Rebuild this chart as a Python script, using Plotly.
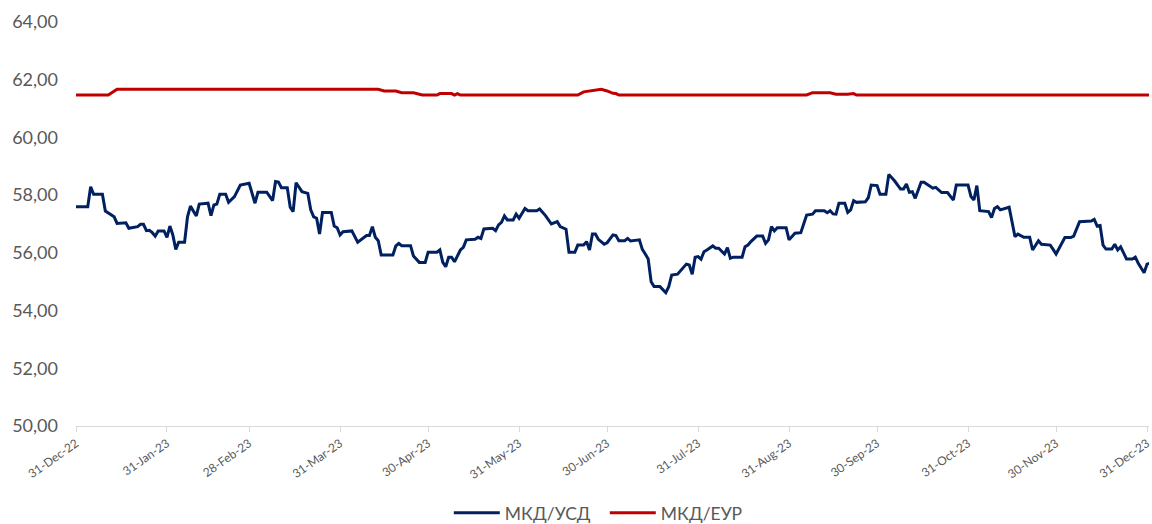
import pandas as pd
import plotly.graph_objects as go

BASE_DATE = "2022-12-31"

# MKD/USD: day offset from 31-Dec-22, value
usd_day = [
    0, 4, 5, 6, 9, 10, 13, 14, 17, 18,
    21, 22, 23, 24, 25, 26, 27, 28, 30, 31,
    32, 33, 34, 35, 37, 38, 39, 41, 42, 45,
    46, 47, 48, 49, 51, 52, 54, 56, 59, 61,
    62, 65, 67, 68, 69, 70, 72, 73, 74, 75,
    77, 79, 80, 81, 82, 83, 84, 87, 88, 89,
    90, 91, 94, 96, 99, 100, 101, 102, 103, 104,
    108, 109, 110, 111, 114, 115, 117, 119, 120, 123,
    124, 125, 126, 127, 128, 129, 131, 132, 133, 136,
    137, 138, 139, 142, 143, 144, 145, 146, 147, 149,
    150, 151, 153, 154, 157, 158, 160, 162, 164, 165,
    167, 168, 170, 171, 173, 174, 175, 176, 177, 178,
    180, 181, 183, 184, 185, 187, 188, 189, 192, 193,
    194, 195, 196, 197, 199, 201, 202, 203, 205, 208,
    209, 210, 211, 212, 213, 214, 215, 217, 218, 219,
    221, 222, 223, 224, 227, 228, 229, 230, 232, 234,
    235, 236, 237, 238, 239, 242, 243, 245, 247, 249,
    251, 252, 255, 256, 257, 258, 259, 260, 262, 263,
    264, 265, 266, 269, 270, 271, 273, 274, 276, 277,
    279, 281, 282, 283, 284, 285, 286, 288, 289, 292,
    293, 295, 297, 299, 300, 304, 305, 306, 307, 308,
    311, 312, 313, 314, 315, 318, 320, 321, 323, 325,
    326, 328, 329, 332, 333, 334, 337, 339, 340, 342,
    346, 347, 348, 349, 350, 351, 353, 354, 355, 356,
    358, 360, 361, 362, 364, 365, 366,
]
usd_val = [
    57.60, 57.60, 58.29, 58.03, 58.03, 57.45, 57.25, 57.02, 57.04, 56.85,
    56.91, 56.99, 56.99, 56.77, 56.78, 56.70, 56.58, 56.76, 56.76, 56.54,
    56.93, 56.62, 56.12, 56.37, 56.37, 57.25, 57.62, 57.28, 57.69, 57.72,
    57.29, 57.66, 57.69, 58.03, 58.03, 57.75, 57.95, 58.35, 58.41, 57.72,
    58.10, 58.10, 57.81, 58.47, 58.45, 58.26, 58.26, 57.58, 57.43, 58.43,
    58.12, 58.06, 57.49, 57.25, 57.20, 56.65, 57.40, 57.40, 56.93, 56.87,
    56.62, 56.73, 56.76, 56.37, 56.60, 56.60, 56.91, 56.54, 56.42, 55.93,
    55.93, 56.24, 56.33, 56.25, 56.25, 55.89, 55.67, 55.67, 56.02, 56.02,
    56.10, 55.67, 55.52, 55.85, 55.85, 55.69, 56.10, 56.19, 56.45, 56.47,
    56.54, 56.50, 56.83, 56.85, 56.77, 56.97, 57.06, 57.28, 57.14, 57.14,
    57.34, 57.20, 57.54, 57.46, 57.46, 57.52, 57.29, 57.00, 57.08, 56.91,
    56.82, 56.02, 56.02, 56.27, 56.27, 56.39, 56.10, 56.65, 56.65, 56.47,
    56.30, 56.35, 56.62, 56.60, 56.42, 56.42, 56.50, 56.41, 56.45, 56.12,
    55.96, 55.79, 55.00, 54.83, 54.83, 54.62, 54.83, 55.23, 55.26, 55.61,
    55.58, 55.26, 55.85, 55.87, 55.78, 56.04, 56.10, 56.24, 56.16, 56.16,
    55.96, 56.18, 55.81, 55.85, 55.85, 56.21, 56.27, 56.39, 56.58, 56.58,
    56.33, 56.45, 56.91, 56.76, 56.87, 56.87, 56.45, 56.68, 56.70, 57.31,
    57.34, 57.46, 57.46, 57.39, 57.46, 57.35, 57.34, 57.72, 57.72, 57.40,
    57.49, 57.81, 57.75, 57.77, 57.91, 58.35, 58.33, 58.03, 58.03, 58.72,
    58.49, 58.21, 58.21, 58.39, 58.10, 58.12, 57.89, 58.45, 58.45, 58.24,
    58.27, 58.09, 58.09, 57.83, 58.35, 58.35, 57.95, 57.83, 58.33, 57.46,
    57.43, 57.22, 57.54, 57.60, 57.49, 57.58, 56.56, 56.65, 56.54, 56.54,
    56.10, 56.42, 56.30, 56.27, 56.12, 55.96, 56.53, 56.53, 56.58, 57.08,
    57.10, 57.16, 56.93, 56.95, 56.27, 56.13, 56.13, 56.30, 56.10, 56.21,
    55.79, 55.79, 55.85, 55.64, 55.31, 55.61, 55.64,
]

# MKD/EUR
eur_day = [0, 11, 14, 103, 105, 109, 111, 115, 118, 123,
           124, 128, 129, 130, 131, 171, 173, 175, 177, 179,
           181, 183, 184, 185, 249, 251, 257, 259, 263, 265,
           266, 366]
eur_val = [61.47, 61.47, 61.67, 61.67, 61.61, 61.61, 61.55, 61.55, 61.47, 61.47,
           61.52, 61.52, 61.47, 61.52, 61.47, 61.47, 61.58, 61.61, 61.64, 61.67,
           61.61, 61.53, 61.52, 61.47, 61.47, 61.55, 61.55, 61.50, 61.50, 61.52,
           61.47, 61.47]

tick_dates = ["2022-12-31", "2023-01-31", "2023-02-28", "2023-03-31", "2023-04-30",
              "2023-05-31", "2023-06-30", "2023-07-31", "2023-08-31", "2023-09-30",
              "2023-10-31", "2023-11-30", "2023-12-31"]
tick_labels = ["31-Dec-22", "31-Jan-23", "28-Feb-23", "31-Mar-23", "30-Apr-23",
               "31-May-23", "30-Jun-23", "31-Jul-23", "31-Aug-23", "30-Sep-23",
               "31-Oct-23", "30-Nov-23", "31-Dec-23"]
y_ticks = [50, 52, 54, 56, 58, 60, 62, 64]

base = pd.Timestamp(BASE_DATE)
usd_x = base + pd.to_timedelta(usd_day, unit="D")
eur_x = base + pd.to_timedelta(eur_day, unit="D")

FONT = "Lato"
GREY = "#595959"

fig = go.Figure()
fig.add_trace(go.Scatter(x=usd_x, y=usd_val, mode="lines", name="МКД/УСД",
                         line=dict(color="#002060", width=3)))
fig.add_trace(go.Scatter(x=eur_x, y=eur_val, mode="lines", name="МКД/ЕУР",
                         line=dict(color="#C00000", width=3)))

fig.update_layout(
    width=1152, height=524,
    margin=dict(l=76, r=0, t=22, b=98),
    paper_bgcolor="white", plot_bgcolor="white",
    separators=", ",
    font=dict(family=FONT, color=GREY),
    showlegend=True,
    legend=dict(orientation="h", xref="container", yref="container",
                x=0.525, xanchor="center", y=0.021, yanchor="middle",
                font=dict(size=17.5, color=GREY), itemwidth=46,
                entrywidth=95, tracegroupgap=0),
    xaxis=dict(
        range=["2022-12-31", "2023-12-31 16:00"],
        tickvals=tick_dates, ticktext=tick_labels, tickangle=-35,
        tickfont=dict(size=12, color=GREY),
        ticklabeloverflow="allow",
        showgrid=False, showline=True, linecolor="#D9D9D9", linewidth=1,
        ticks="outside", ticklen=5, tickcolor="#D9D9D9",
        zeroline=False,
    ),
    yaxis=dict(
        range=[50, 64], tickvals=y_ticks, tickformat=".2f",
        tickfont=dict(size=18, color=GREY),
        showgrid=False, showline=False, zeroline=False,
        ticks="", ticklabelstandoff=17,
    ),
)

fig.write_html(
    "out.html",
    config={"displayModeBar": False},
    post_script="document.body.style.margin='0';document.body.style.overflow='hidden';",
)
